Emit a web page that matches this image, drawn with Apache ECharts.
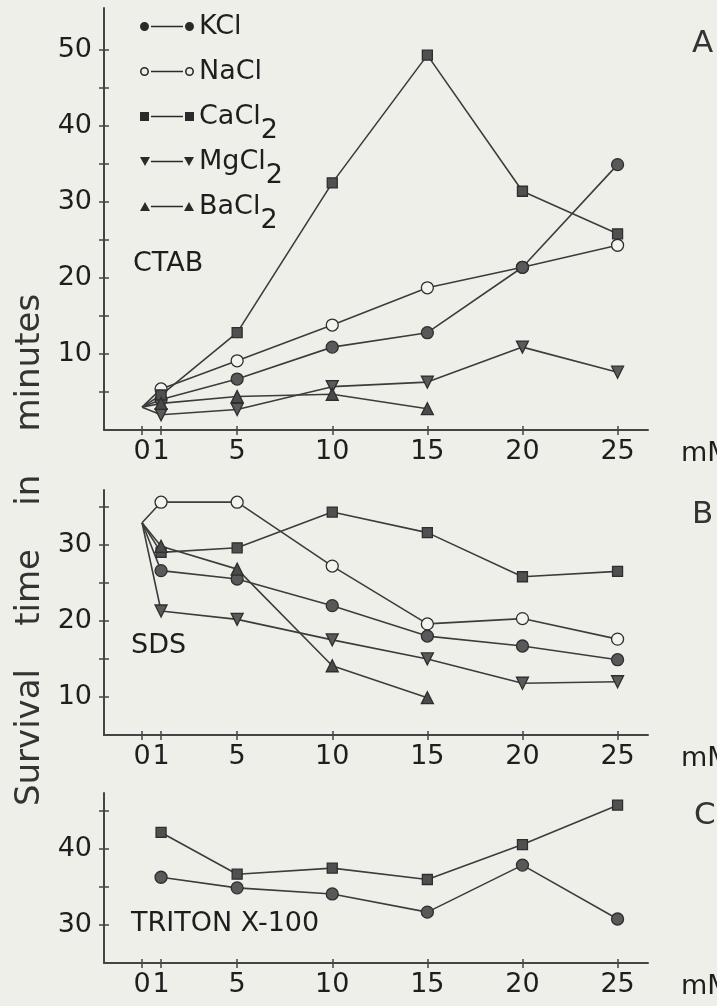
<!DOCTYPE html>
<html>
<head>
<meta charset="utf-8">
<title>Survival time</title>
<script src="https://cdn.jsdelivr.net/npm/echarts@6/dist/echarts.min.js"></script>
<style>
  html, body { margin: 0; padding: 0; background: #efefea; }
  #chart { width: 717px; height: 1006px; }
</style>
</head>
<body>
<div id="chart"></div>
<script>
// concentrations, mM
const concAB = [0, 1, 5, 10, 15, 20, 25]
const concBa = [0, 1, 5, 10, 15]
const concC = [1, 5, 10, 15, 20, 25]
const xTicks = [0, 1, 5, 10, 15, 20, 25]

// A - CTAB (survival time, minutes)
const kclA = [3.0, 4.0, 6.7, 10.9, 12.8, 21.4, 34.9]
const naclA = [3.0, 5.4, 9.1, 13.8, 18.7, 21.4, 24.3]
const cacl2A = [3.0, 4.6, 12.8, 32.5, 49.3, 31.4, 25.8]
const mgcl2A = [3.0, 2.0, 2.7, 5.7, 6.3, 10.9, 7.6]
const bacl2A = [3.0, 3.5, 4.4, 4.7, 2.8]

// B - SDS
const kclB = [32.9, 26.6, 25.5, 22.0, 18.0, 16.7, 14.9]
const naclB = [32.9, 35.6, 35.6, 27.2, 19.6, 20.3, 17.6]
const cacl2B = [32.9, 29.0, 29.6, 34.3, 31.6, 25.8, 26.5]
const mgcl2B = [32.9, 21.3, 20.2, 17.5, 15.0, 11.8, 12.0]
const bacl2B = [32.9, 29.8, 26.8, 14.1, 9.9]

// C - TRITON X-100
const kclC = [36.3, 34.9, 34.1, 31.7, 37.9, 30.8]
const cacl2C = [42.2, 36.7, 37.5, 36.0, 40.6, 45.8]

// y ticks / labels per panel
const yTicksA = [5, 10, 15, 20, 25, 30, 35, 40, 45, 50]
const yLabelsA = [10, 20, 30, 40, 50]
const yTicksB = [10, 15, 20, 25, 30, 35]
const yLabelsB = [10, 20, 30]
const yTicksC = [30, 35, 40, 45]
const yLabelsC = [30, 40]

const FONT = '"DejaVu Sans", sans-serif'
const INK = '#1e1e1e'
const AXIS = '#444'
const LINE = '#3c3c3c'

const grids = [
  { left: 104, top: 8, width: 544, height: 422, ymin: 0, ymax: 55.5, ticks: yTicksA, labels: yLabelsA },
  { left: 104, top: 490, width: 544, height: 245, ymin: 5, ymax: 37.2, ticks: yTicksB, labels: yLabelsB },
  { left: 104, top: 793, width: 544, height: 170, ymin: 25, ymax: 47.4, ticks: yTicksC, labels: yLabelsC },
]

const xAxis = []
const yAxis = []
grids.forEach((g, i) => {
  const xb = { type: 'value', gridIndex: i, min: -2, max: 26.6, splitLine: { show: false } }
  xAxis.push({
    ...xb,
    axisLine: { onZero: false, lineStyle: { color: AXIS, width: 2 } },
    axisTick: { customValues: xTicks, length: 5, lineStyle: { color: AXIS, width: 1.5 } },
    axisLabel: { customValues: xTicks, color: INK, fontSize: 27, fontFamily: FONT, margin: 8 },
    name: 'mM',
    nameLocation: 'end',
    nameGap: 33,
    nameTextStyle: { color: INK, fontSize: 27, fontFamily: FONT, verticalAlign: 'top', padding: [10, 0, 0, 0] },
  })
  xAxis.push({
    ...xb,
    position: 'bottom',
    axisLine: { show: false, onZero: false },
    axisTick: { inside: true, customValues: xTicks, length: 4, lineStyle: { color: AXIS, width: 1.5 } },
    axisLabel: { show: false },
  })
  const yb = { type: 'value', gridIndex: i, min: g.ymin, max: g.ymax, position: 'left', splitLine: { show: false } }
  yAxis.push({
    ...yb,
    axisLine: { show: true, onZero: false, lineStyle: { color: AXIS, width: 2 } },
    axisTick: { show: true, customValues: g.ticks, length: 5, lineStyle: { color: AXIS, width: 1.5 } },
    axisLabel: { customValues: g.labels, color: INK, fontSize: 27, fontFamily: FONT, margin: 12 },
  })
  yAxis.push({
    ...yb,
    axisLine: { show: false, onZero: false },
    axisTick: { show: true, inside: true, customValues: g.ticks, length: 5, lineStyle: { color: AXIS, width: 1.5 } },
    axisLabel: { show: false },
  })
})

const marks = {
  KCl: { symbol: 'circle', size: 12, fill: '#595959' },
  NaCl: { symbol: 'circle', size: 12, fill: '#f4f4ef' },
  CaCl2: { symbol: 'rect', size: 10, fill: '#505050' },
  MgCl2: { symbol: 'triangle', size: 12, fill: '#5a5a5a', rotate: 180 },
  BaCl2: { symbol: 'triangle', size: 12, fill: '#4a4a4a' },
}

function makeSeries(name, xs, ys, panel) {
  const m = marks[name]
  return {
    name,
    type: 'line',
    xAxisIndex: panel * 2,
    yAxisIndex: panel * 2,
    symbol: m.symbol,
    symbolSize: m.size,
    symbolRotate: m.rotate || 0,
    lineStyle: { color: LINE, width: 1.6 },
    itemStyle: { color: m.fill, borderColor: '#2e2e2e', borderWidth: 1.3 },
    emphasis: { disabled: true },
    data: xs.map((x, i) => (x === 0 ? { value: [x, ys[i]], symbol: 'none' } : [x, ys[i]])),
  }
}

const series = [
  makeSeries('NaCl', concAB, naclA, 0),
  makeSeries('KCl', concAB, kclA, 0),
  makeSeries('CaCl2', concAB, cacl2A, 0),
  makeSeries('MgCl2', concAB, mgcl2A, 0),
  makeSeries('BaCl2', concBa, bacl2A, 0),
  makeSeries('NaCl', concAB, naclB, 1),
  makeSeries('KCl', concAB, kclB, 1),
  makeSeries('CaCl2', concAB, cacl2B, 1),
  makeSeries('MgCl2', concAB, mgcl2B, 1),
  makeSeries('BaCl2', concBa, bacl2B, 1),
  makeSeries('KCl', concC, kclC, 2),
  makeSeries('CaCl2', concC, cacl2C, 2),
]

const bar = ' M11,3.8H43V5.2H11Z'
const icons = {
  KCl: 'path://M0,4.5A4.5,4.5 0 1,0 9,4.5A4.5,4.5 0 1,0 0,4.5Z' + bar + ' M45,4.5A4.5,4.5 0 1,0 54,4.5A4.5,4.5 0 1,0 45,4.5Z',
  NaCl: 'path://M0,4.5A4.5,4.5 0 1,0 9,4.5A4.5,4.5 0 1,0 0,4.5Z M1.6,4.5A2.9,2.9 0 1,1 7.4,4.5A2.9,2.9 0 1,1 1.6,4.5Z' + bar +
    ' M45,4.5A4.5,4.5 0 1,0 54,4.5A4.5,4.5 0 1,0 45,4.5Z M46.6,4.5A2.9,2.9 0 1,1 52.4,4.5A2.9,2.9 0 1,1 46.6,4.5Z',
  CaCl2: 'path://M0,0H9V9H0Z' + bar + ' M45,0H54V9H45Z',
  MgCl2: 'path://M0,0H10L5,9Z' + bar + ' M44,0H54L49,9Z',
  BaCl2: 'path://M0,9H10L5,0Z' + bar + ' M44,9H54L49,0Z',
}
const legendNames = ['KCl', 'NaCl', 'CaCl2', 'MgCl2', 'BaCl2']

const titleStyle = { color: INK, fontSize: 27, fontFamily: FONT, fontWeight: 'normal' }
const letterStyle = { color: '#333', fontSize: 31, fontFamily: FONT, fontWeight: 'normal' }

const chart = echarts.init(document.getElementById('chart'))
chart.setOption({
  animation: false,
  backgroundColor: '#efefea',
  grid: grids.map((g) => ({ left: g.left, top: g.top, width: g.width, height: g.height, containLabel: false, outerBoundsMode: 'none' })),
  xAxis,
  yAxis,
  series,
  legend: {
    orient: 'vertical',
    left: 140,
    top: 13,
    padding: 0,
    itemWidth: 54,
    itemHeight: 9,
    itemGap: 4,
    selectedMode: false,
    formatter: (name) => (name.endsWith('2') ? name.slice(0, -1) + '{s|2}' : name + '{s| }'),
    textStyle: {
      color: INK, fontSize: 27, fontFamily: FONT,
      rich: { s: { color: INK, fontSize: 27, fontFamily: FONT, padding: [28, 0, 0, 0] } },
    },
    data: legendNames.map((n) => ({ name: n, icon: icons[n], itemStyle: { color: '#2a2a2a', borderWidth: 0 } })),
  },
  title: [
    { text: 'CTAB', left: 133, top: 250, padding: 0, textStyle: titleStyle },
    { text: 'SDS', left: 131, top: 632, padding: 0, textStyle: titleStyle },
    { text: 'TRITON X-100', left: 131, top: 910, padding: 0, textStyle: titleStyle },
    { text: 'A', left: 692, top: 28, padding: 0, textStyle: letterStyle },
    { text: 'B', left: 692, top: 499, padding: 0, textStyle: letterStyle },
    { text: 'C', left: 694, top: 800, padding: 0, textStyle: letterStyle },
  ],
  graphic: [
    {
      type: 'text',
      x: 30,
      y: 550,
      rotation: Math.PI / 2,
      style: {
        text: 'Survival    time    in    minutes',
        font: '34px "DejaVu Sans", sans-serif',
        fill: '#333',
        textAlign: 'center',
        textVerticalAlign: 'middle',
      },
    },
  ],
})
</script>
</body>
</html>
